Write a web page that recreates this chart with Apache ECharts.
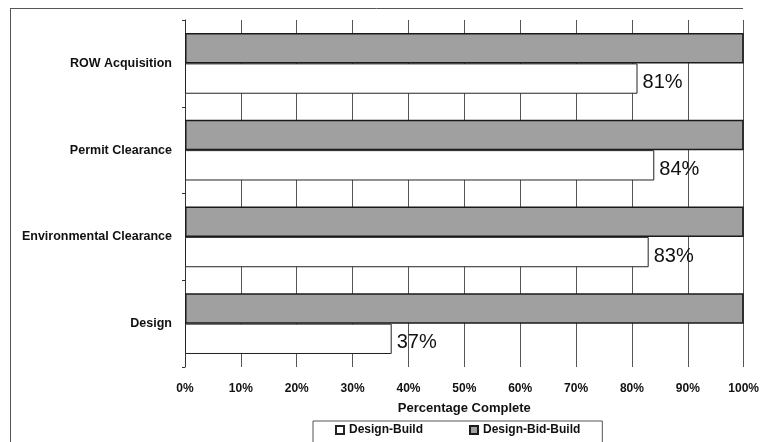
<!DOCTYPE html>
<html>
<head>
<meta charset="utf-8">
<script src="https://cdn.jsdelivr.net/npm/echarts@6/dist/echarts.min.js"></script>
<style>
html,body{margin:0;padding:0;background:#fff;}
#chart{width:762px;height:442px;}
</style>
</head>
<body>
<div id="chart"></div>
<script>
const categories = ['Design', 'Environmental Clearance', 'Permit Clearance', 'ROW Acquisition'];
const designBuild = [37, 83, 84, 81];
const designBidBuild = [100, 100, 100, 100];
const xTicks = [0, 10, 20, 30, 40, 50, 60, 70, 80, 90, 100];
const seriesNames = ['Design-Build', 'Design-Bid-Build'];
const axisTitle = 'Percentage Complete';

const FONT = '"Liberation Sans", Arial, sans-serif';
const chart = echarts.init(document.getElementById('chart'), null, {renderer: 'canvas'});

chart.setOption({
  animation: false,
  backgroundColor: '#fff',
  textStyle: {fontFamily: FONT},
  grid: {left: 185, right: 15, top: 20, bottom: 75, containLabel: false},
  graphic: [
    {type: 'line', shape: {x1: 10, y1: 8.5, x2: 743, y2: 8.5}, style: {stroke: '#555', lineWidth: 1}, silent: true},
    {type: 'line', shape: {x1: 10.5, y1: 8, x2: 10.5, y2: 442}, style: {stroke: '#555', lineWidth: 1}, silent: true}
  ],
  legend: {
    data: seriesNames,
    left: 313,
    top: 421,
    padding: [3, 22, 20, 22],
    itemWidth: 8,
    itemHeight: 8,
    itemGap: 46,
    icon: 'rect',
    borderColor: '#555',
    borderWidth: 1,
    textStyle: {fontFamily: FONT, fontWeight: 'bold', fontSize: 12, color: '#111'}
  },
  xAxis: {
    type: 'value',
    min: xTicks[0],
    max: xTicks[xTicks.length - 1],
    interval: 10,
    name: axisTitle,
    nameLocation: 'middle',
    nameGap: 35,
    nameTextStyle: {fontFamily: FONT, fontWeight: 'bold', fontSize: 13, color: '#111'},
    axisLine: {show: false},
    axisTick: {show: false},
    axisLabel: {formatter: '{value}%', fontFamily: FONT, fontWeight: 'bold', fontSize: 12, color: '#111', margin: 16},
    splitLine: {show: true, lineStyle: {color: '#555', width: 1}}
  },
  yAxis: {
    type: 'category',
    data: categories,
    axisLine: {show: true, lineStyle: {color: '#333', width: 1}},
    axisTick: {show: true, length: 3, lineStyle: {color: '#333'}},
    axisLabel: {fontFamily: FONT, fontWeight: 'bold', fontSize: 12.5, color: '#111', margin: 13}
  },
  series: [
    {
      name: seriesNames[1],
      type: 'bar',
      data: designBidBuild,
      barGap: '0%',
      barCategoryGap: '30%',
      itemStyle: {color: '#a0a0a0', borderColor: '#1a1a1a', borderWidth: 1.5},
      z: 3
    },
    {
      name: seriesNames[0],
      type: 'bar',
      data: designBuild,
      barGap: '0%',
      barCategoryGap: '30%',
      itemStyle: {color: '#ffffff', borderColor: '#222', borderWidth: 1},
      label: {
        show: true,
        position: 'right',
        distance: 5,
        formatter: '{c}%',
        fontFamily: FONT,
        fontSize: 20,
        color: '#111',
        offset: [0, 4]
      },
      z: 3
    }
  ]
});
</script>
</body>
</html>
